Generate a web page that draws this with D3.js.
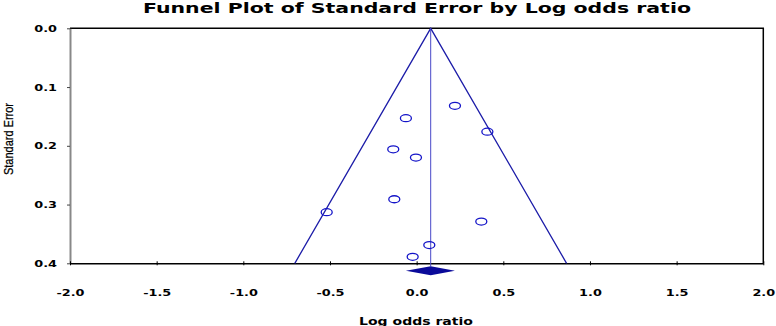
<!DOCTYPE html>
<html>
<head>
<meta charset="utf-8">
<script src="https://cdn.jsdelivr.net/npm/d3@7"></script>
<style>
  body { margin: 0; background: #fff; }
  svg { display: block; }
</style>
</head>
<body>
<script>
// Width and height
var w = 776;
var h = 326;

// study data: log odds ratio and its standard error
var logOR = [0.221, -0.062, 0.408, -0.135, -0.004, -0.129, 0.373, -0.519, 0.073, -0.023];
var stdErr = [0.132, 0.153, 0.176, 0.206, 0.220, 0.291, 0.329, 0.313, 0.369, 0.389];

// pooled estimate and its confidence interval
var pooled = 0.081;
var pooledLow = -0.062;
var pooledHigh = 0.221;

var xTicks = [-2.0, -1.5, -1.0, -0.5, 0.0, 0.5, 1.0, 1.5, 2.0];
var yTicks = [0.0, 0.1, 0.2, 0.3, 0.4];

var plotL = 70, plotR = 763.3, plotT = 28.3, plotB = 263.3;

var svg = d3.select('body')
    .append('svg')
    .attr('width', w)
    .attr('height', h);

var xScale = d3.scaleLinear()
    .domain([-2, 2])
    .range([plotL, plotR]);

var yScale = d3.scaleLinear()
    .domain([0, 0.4])
    .range([plotT, plotB]);

var blue = '#1c1ca8';
var fmt = d => d3.format('.1f')(d).replace('−', '-');

// widen text glyphs like the original's extended bold face
function stretch(sel, k) {
    sel.each(function() {
        var len = this.getComputedTextLength();
        d3.select(this).attr('textLength', len * k).attr('lengthAdjust', 'spacingAndGlyphs');
    });
}

// title
svg.append('text')
    .text('Funnel Plot of Standard Error by Log odds ratio')
    .attr('x', 143)
    .attr('y', 13)
    .attr('textLength', 548)
    .attr('lengthAdjust', 'spacingAndGlyphs')
    .attr('font-family', 'DejaVu Sans, sans-serif')
    .attr('font-weight', 'bold')
    .attr('font-size', '14px')
    .attr('fill', '#000');

// top + right frame
svg.append('path')
    .attr('d', 'M' + plotL + ',' + plotT + 'H' + plotR + 'V' + plotB)
    .attr('fill', 'none')
    .attr('stroke', '#000')
    .attr('stroke-width', 1.5);

// y axis
var yAxis = svg.append('g')
    .attr('transform', 'translate(' + plotL + ',0)')
    .call(d3.axisLeft(yScale).tickValues(yTicks).tickFormat(fmt).tickSize(3).tickSizeOuter(0));
yAxis.select('.domain').attr('stroke', '#888').attr('stroke-width', 2);
yAxis.selectAll('.tick line').attr('stroke', '#444');
yAxis.selectAll('.tick text')
    .attr('x', -13)
    .attr('font-family', 'DejaVu Sans, sans-serif')
    .attr('font-weight', 'bold')
    .attr('font-size', '9.5px')
    .attr('fill', '#000')
    .call(stretch, 1.35);

// x axis
var xAxis = svg.append('g')
    .attr('transform', 'translate(0,' + plotB + ')')
    .call(d3.axisBottom(xScale).tickValues(xTicks).tickFormat(fmt).tickSize(2).tickSizeOuter(0));
xAxis.select('.domain').attr('stroke', '#000').attr('stroke-width', 1.5);
xAxis.selectAll('.tick line').attr('y1', -2).attr('stroke', '#000');
xAxis.selectAll('.tick text')
    .attr('y', 33)
    .attr('dy', 0)
    .attr('font-family', 'DejaVu Sans, sans-serif')
    .attr('font-weight', 'bold')
    .attr('font-size', '9.5px')
    .attr('fill', '#000')
    .call(stretch, 1.35);

// axis titles
svg.append('text')
    .text('Log odds ratio')
    .attr('x', 359)
    .attr('y', 324.5)
    .attr('textLength', 114)
    .attr('lengthAdjust', 'spacingAndGlyphs')
    .attr('font-family', 'DejaVu Sans, sans-serif')
    .attr('font-weight', 'bold')
    .attr('font-size', '10px')
    .attr('fill', '#000');

svg.append('text')
    .text('Standard Error')
    .attr('transform', 'translate(12.5,175) rotate(-90)')
    .attr('textLength', 72)
    .attr('lengthAdjust', 'spacingAndGlyphs')
    .attr('font-family', 'Liberation Sans, Arial, sans-serif')
    .attr('font-size', '12.5px')
    .attr('stroke', '#000')
    .attr('stroke-width', 0.25)
    .attr('fill', '#000');

// funnel
var seMax = 0.4;
var funnel = [[pooled - 1.96 * seMax, seMax], [pooled, 0], [pooled + 1.96 * seMax, seMax]];
svg.append('path')
    .attr('d', d3.line().x(d => xScale(d[0])).y(d => yScale(d[1]))(funnel))
    .attr('fill', 'none')
    .attr('stroke', blue)
    .attr('stroke-width', 1.3);

// vertical line at the pooled estimate
svg.append('line')
    .attr('x1', xScale(pooled))
    .attr('x2', xScale(pooled))
    .attr('y1', yScale(0))
    .attr('y2', yScale(seMax) + 3)
    .attr('stroke', '#4848c8')
    .attr('stroke-width', 1);

// studies
svg.selectAll('ellipse.study')
    .data(logOR)
    .enter()
    .append('ellipse')
    .attr('class', 'study')
    .attr('cx', d => xScale(d))
    .attr('cy', (d, i) => yScale(stdErr[i]))
    .attr('rx', 5.5)
    .attr('ry', 3.5)
    .attr('fill', 'none')
    .attr('stroke', '#1414c8')
    .attr('stroke-width', 1.3);

// pooled diamond
var dy = yScale(seMax) + 7.4;
svg.append('path')
    .attr('d', 'M' + xScale(pooledLow) + ',' + dy +
               'L' + xScale(pooled) + ',' + (dy - 4.5) +
               'L' + xScale(pooledHigh) + ',' + dy +
               'L' + xScale(pooled) + ',' + (dy + 4.5) + 'Z')
    .attr('fill', '#0a0a9a');
</script>
</body>
</html>
